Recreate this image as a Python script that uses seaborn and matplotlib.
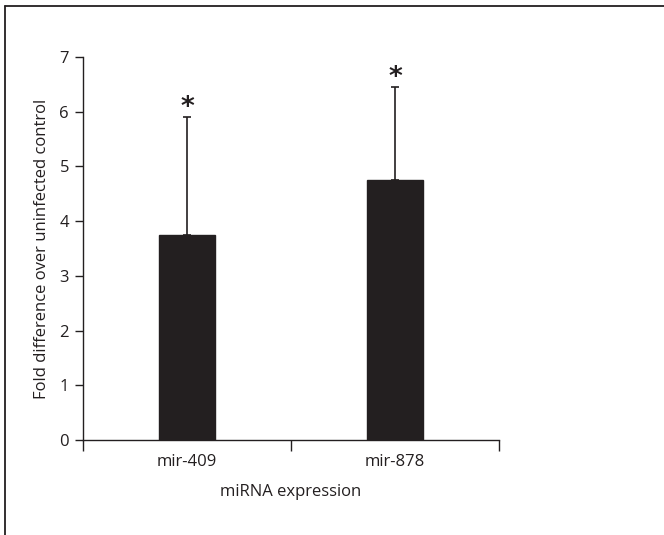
import seaborn as sns
import pandas as pd
import matplotlib.pyplot as plt
from matplotlib.lines import Line2D

mirnas = ["mir-409", "mir-878"]
fold = [3.75, 4.75]
err_upper = [2.15, 1.7]
stars = ["*", "*"]

sns.set_style("white")
plt.rcParams['font.family'] = ['Open Sans', 'DejaVu Sans']

ink = "#231f20"
df = pd.DataFrame({"miRNA": mirnas, "fold": fold})

fig = plt.figure(figsize=(6.64, 5.35), dpi=100)
ax = fig.add_axes([83/664, 1 - 440/535, 416/664, 383/535])

sns.barplot(data=df, x="miRNA", y="fold", color=ink, width=0.265,
            saturation=1, errorbar=None, ax=ax)
for p in ax.patches:
    p.set_edgecolor(ink)

xs = list(range(len(mirnas)))
ax.errorbar(xs, fold, yerr=[[0] * len(fold), err_upper], fmt="none",
            ecolor=ink, elinewidth=1.2, capsize=3, capthick=1.2)
for x, f, e, s in zip(xs, fold, err_upper, stars):
    ax.text(x, f + e + 0.17, s, ha="center", va="center", fontsize=19,
            color=ink, fontweight="bold", family="DejaVu Sans")

ax.set_xlim(-0.5, 1.5)
ax.set_ylim(0, 7)
ax.set_yticks(range(0, 8))
ax.tick_params(axis="y", direction="out", length=6, width=1, color=ink,
               labelsize=12, labelcolor=ink, left=True, pad=4)
ax.set_xticks([-0.5, 0.5, 1.5])
ax.set_xticklabels([])
ax.tick_params(axis="x", which="major", direction="out", length=8, width=1,
               color=ink, bottom=True)
ax.set_xticks(xs, minor=True)
ax.set_xticklabels(mirnas, minor=True)
ax.tick_params(axis="x", which="minor", length=0, labelsize=12,
               labelcolor=ink, pad=10)

for side in ["top", "right"]:
    ax.spines[side].set_visible(False)
for side in ["left", "bottom"]:
    ax.spines[side].set_color(ink)
    ax.spines[side].set_linewidth(1)

ax.set_xlabel("miRNA expression", fontsize=12, color=ink, labelpad=10)
ax.set_ylabel("Fold difference over uninfected control", fontsize=12,
              color=ink, labelpad=7)

fig.add_artist(Line2D([5/664, 5/664], [0, 1 - 6/535], color=ink, lw=1.3))
fig.add_artist(Line2D([5/664, 1], [1 - 6/535, 1 - 6/535], color=ink, lw=1.3))

fig.savefig("out.png", dpi=100)
